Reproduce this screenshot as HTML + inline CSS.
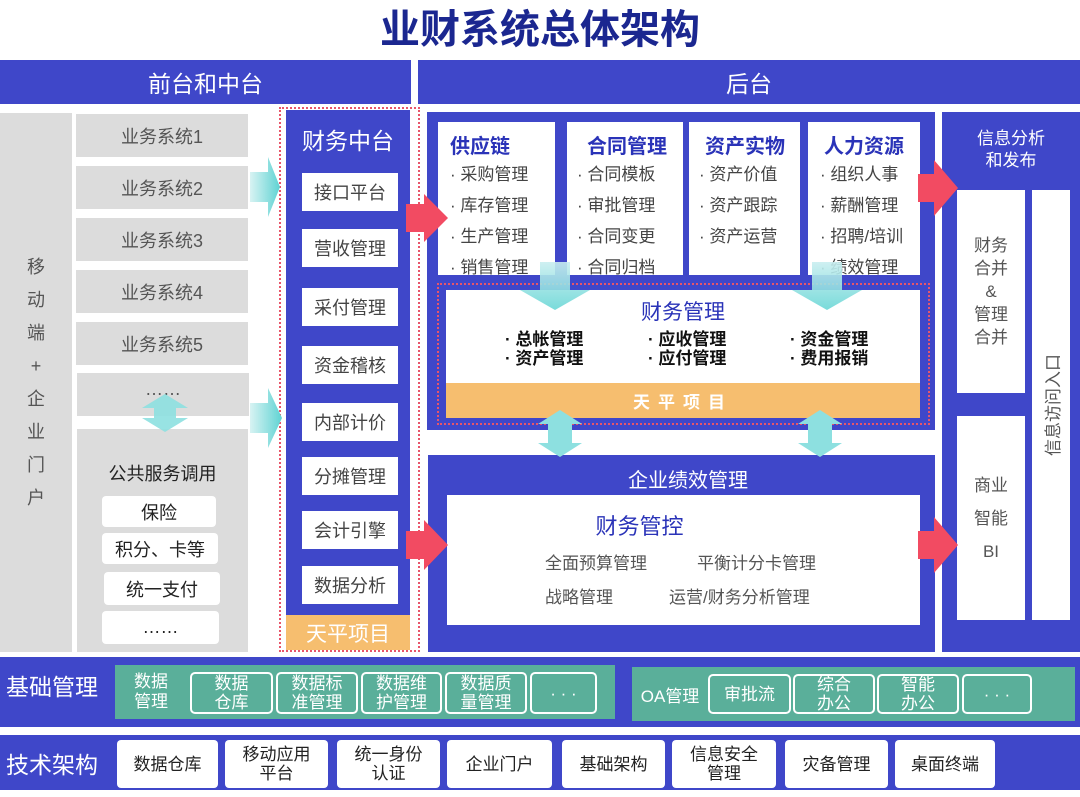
<!DOCTYPE html>
<html><head><meta charset="utf-8"><style>
*{margin:0;padding:0;box-sizing:border-box}
body{width:1080px;height:797px;background:#fff;position:relative;overflow:hidden;font-family:"Liberation Sans","Noto Sans CJK SC",sans-serif}
div{position:absolute}
.b{background:#3f47c9}
.c{display:flex;align-items:center;justify-content:center;text-align:center}
.g{background:#dcdcdc;color:#555;font-size:18px}
.w{background:#fff}
.gw{background:#fff;color:#222;font-size:18px;border-radius:4px}
.fm{background:#fff;color:#444;font-size:18px}
.cap{color:#2a33b8;font-size:20px;font-weight:bold}
.li{color:#444;font-size:17px;line-height:31px}
.gb{border:2px solid #fff;border-radius:5px;color:#fff;font-size:17px;line-height:19px}
.tb{background:#fff;border-radius:4px;color:#222;font-size:17px;line-height:19px}
</style></head><body>
<div class="c" style="left:0;top:0;width:1080px;height:52px;font-size:40px;font-weight:bold;color:#1b2790">业财系统总体架构</div>
<div class="b c" style="left:0;top:60px;width:411px;height:44px;color:#fff;font-size:23px">前台和中台</div>
<div class="b c" style="left:418px;top:60px;width:662px;height:44px;color:#fff;font-size:23px">后台</div>

<div class="g c" style="left:0;top:113px;width:72px;height:539px;flex-direction:column;line-height:33px;font-size:18px">移<br>动<br>端<br>+<br>企<br>业<br>门<br>户</div>
<div class="g c" style="left:76px;top:114px;width:172px;height:43px">业务系统1</div>
<div class="g c" style="left:76px;top:166px;width:172px;height:43px">业务系统2</div>
<div class="g c" style="left:76px;top:218px;width:172px;height:43px">业务系统3</div>
<div class="g c" style="left:76px;top:270px;width:172px;height:43px">业务系统4</div>
<div class="g c" style="left:76px;top:322px;width:172px;height:43px">业务系统5</div>
<div class="g c" style="left:77px;top:373px;width:172px;height:43px;padding-bottom:10px">……</div>
<div class="g" style="left:77px;top:429px;width:171px;height:223px"></div>
<div class="c" style="left:77px;top:458px;width:171px;height:30px;font-size:18px;color:#222">公共服务调用</div>
<div class="gw c" style="left:102px;top:496px;width:114px;height:31px">保险</div>
<div class="gw c" style="left:102px;top:533px;width:116px;height:31px">积分、卡等</div>
<div class="gw c" style="left:104px;top:572px;width:116px;height:33px">统一支付</div>
<div class="gw c" style="left:102px;top:611px;width:117px;height:33px">……</div>

<div style="left:279px;top:107px;width:141px;height:545px;border:2px dotted #e8556a"></div>
<div class="b" style="left:286px;top:110px;width:124px;height:505px"></div>
<div class="c" style="left:286px;top:122px;width:124px;height:34px;color:#fff;font-size:23px">财务中台</div>
<div class="fm c" style="left:302px;top:173px;width:96px;height:38px">接口平台</div>
<div class="fm c" style="left:302px;top:229px;width:96px;height:38px">营收管理</div>
<div class="fm c" style="left:302px;top:288px;width:96px;height:38px">采付管理</div>
<div class="fm c" style="left:302px;top:346px;width:96px;height:38px">资金稽核</div>
<div class="fm c" style="left:302px;top:403px;width:96px;height:38px">内部计价</div>
<div class="fm c" style="left:302px;top:457px;width:96px;height:38px">分摊管理</div>
<div class="fm c" style="left:302px;top:511px;width:96px;height:38px">会计引擎</div>
<div class="fm c" style="left:302px;top:566px;width:96px;height:38px">数据分析</div>
<div class="c" style="left:286px;top:615px;width:124px;height:35px;background:#f6be6f;color:#fff;font-size:21px">天平项目</div>

<div class="b" style="left:427px;top:112px;width:508px;height:318px"></div>
<div class="w" style="left:438px;top:122px;width:117px;height:153px;padding:8px 0 0 12px"><div style="position:static" class="cap">供应链</div><div style="position:static" class="li">· 采购管理<br>· 库存管理<br>· 生产管理<br>· 销售管理</div></div>
<div class="w" style="left:567px;top:122px;width:116px;height:153px;padding:8px 0 0 10px"><div style="position:static;padding-left:10px" class="cap">合同管理</div><div style="position:static" class="li">· 合同模板<br>· 审批管理<br>· 合同变更<br>· 合同归档</div></div>
<div class="w" style="left:689px;top:122px;width:111px;height:153px;padding:8px 0 0 10px"><div style="position:static;padding-left:6px" class="cap">资产实物</div><div style="position:static" class="li">· 资产价值<br>· 资产跟踪<br>· 资产运营</div></div>
<div class="w" style="left:808px;top:122px;width:112px;height:153px;padding:8px 0 0 12px"><div style="position:static;padding-left:4px" class="cap">人力资源</div><div style="position:static" class="li">· 组织人事<br>· 薪酬管理<br>· 招聘/培训<br>· 绩效管理</div></div>
<div style="left:437px;top:283px;width:493px;height:142px;border:2px dotted #e8556a"></div>
<div class="w" style="left:446px;top:290px;width:474px;height:93px"></div>
<div class="c cap" style="left:446px;top:297px;width:474px;height:28px;font-weight:normal;font-size:21px">财务管理</div>
<div style="left:505px;top:330px;font-size:17px;line-height:19px;color:#111;font-weight:bold">· 总帐管理<br>· 资产管理</div>
<div style="left:648px;top:330px;font-size:17px;line-height:19px;color:#111;font-weight:bold">· 应收管理<br>· 应付管理</div>
<div style="left:790px;top:330px;font-size:17px;line-height:19px;color:#111;font-weight:bold">· 资金管理<br>· 费用报销</div>
<div class="c" style="left:446px;top:383px;width:474px;height:35px;background:#f6be6f;color:#fff;font-size:17px;font-weight:bold;letter-spacing:8px">天平项目</div>

<div class="b" style="left:428px;top:455px;width:507px;height:197px"></div>
<div class="c" style="left:428px;top:464px;width:520px;height:28px;color:#fff;font-size:20px">企业绩效管理</div>
<div class="w" style="left:447px;top:495px;width:473px;height:130px"></div>
<div class="c cap" style="left:447px;top:510px;width:385px;height:30px;font-weight:normal;font-size:22px">财务管控</div>
<div style="left:545px;top:549px;font-size:17px;color:#555">全面预算管理</div>
<div style="left:697px;top:549px;font-size:17px;color:#555">平衡计分卡管理</div>
<div style="left:545px;top:583px;font-size:17px;color:#555">战略管理</div>
<div style="left:669px;top:583px;font-size:17px;color:#555">运营/财务分析管理</div>

<div class="b" style="left:942px;top:112px;width:138px;height:540px"></div>
<div class="c" style="left:942px;top:125px;width:138px;height:50px;color:#fff;font-size:17px;line-height:22px">信息分析<br>和发布</div>
<div class="w c" style="left:957px;top:190px;width:68px;height:203px;color:#555;font-size:17px;line-height:23px">财务<br>合并<br>&amp;<br>管理<br>合并</div>
<div class="w c" style="left:957px;top:416px;width:68px;height:204px;color:#555;font-size:17px;line-height:33px">商业<br>智能<br>BI</div>
<div class="w" style="left:1032px;top:190px;width:38px;height:430px"></div>
<div class="c" style="left:951px;top:386px;width:200px;height:38px;color:#555;font-size:17px;transform:rotate(-90deg)">信息访问入口</div>

<div class="b" style="left:0;top:657px;width:1080px;height:70px"></div>
<div style="left:6px;top:668px;color:#fff;font-size:23px">基础管理</div>
<div style="left:115px;top:665px;width:500px;height:54px;background:#5aaf9a"></div>
<div class="c" style="left:115px;top:668px;width:72px;height:48px;color:#fff;font-size:17px;line-height:20px">数据<br>管理</div>
<div class="gb c" style="left:190px;top:672px;width:83px;height:42px">数据<br>仓库</div>
<div class="gb c" style="left:276px;top:672px;width:82px;height:42px">数据标<br>准管理</div>
<div class="gb c" style="left:361px;top:672px;width:81px;height:42px">数据维<br>护管理</div>
<div class="gb c" style="left:445px;top:672px;width:82px;height:42px">数据质<br>量管理</div>
<div class="gb c" style="left:530px;top:672px;width:67px;height:42px">· · ·</div>
<div style="left:632px;top:667px;width:443px;height:54px;background:#5aaf9a"></div>
<div class="c" style="left:634px;top:670px;width:72px;height:48px;color:#fff;font-size:17px">OA管理</div>
<div class="gb c" style="left:708px;top:674px;width:83px;height:40px">审批流</div>
<div class="gb c" style="left:793px;top:674px;width:82px;height:40px">综合<br>办公</div>
<div class="gb c" style="left:877px;top:674px;width:82px;height:40px">智能<br>办公</div>
<div class="gb c" style="left:962px;top:674px;width:70px;height:40px">· · ·</div>

<div class="b" style="left:0;top:735px;width:1080px;height:55px"></div>
<div style="left:6px;top:746px;color:#fff;font-size:23px">技术架构</div>
<div class="tb c" style="left:117px;top:740px;width:101px;height:48px">数据仓库</div>
<div class="tb c" style="left:225px;top:740px;width:103px;height:48px">移动应用<br>平台</div>
<div class="tb c" style="left:337px;top:740px;width:103px;height:48px">统一身份<br>认证</div>
<div class="tb c" style="left:447px;top:740px;width:105px;height:48px">企业门户</div>
<div class="tb c" style="left:562px;top:740px;width:103px;height:48px">基础架构</div>
<div class="tb c" style="left:672px;top:740px;width:104px;height:48px">信息安全<br>管理</div>
<div class="tb c" style="left:785px;top:740px;width:103px;height:48px">灾备管理</div>
<div class="tb c" style="left:895px;top:740px;width:100px;height:48px">桌面终端</div>

<svg style="position:absolute;left:0;top:0" width="1080" height="797">
<defs><linearGradient id="cy" x1="0" x2="1"><stop offset="0" stop-color="#d8f3f3"/><stop offset="1" stop-color="#5fd3d3"/></linearGradient>
<linearGradient id="cv" x1="0" y1="0" x2="0" y2="1"><stop offset="0" stop-color="#c9eef0"/><stop offset="1" stop-color="#6ad7d6"/></linearGradient></defs>
<polygon points="250,172 268,172 268,157 280,187 268,217 268,202 250,202" fill="url(#cy)"/>
<polygon points="250,403 268,403 268,388 282,418 268,448 268,433 250,433" fill="url(#cy)"/>
<polygon points="165,394 188,408 176,408 176,418 188,418 165,432 142,418 154,418 154,408 142,408" fill="#8de0e0" opacity=".9"/>
<polygon points="406,204 424,204 424,194 448,218 424,242 424,232 406,232" fill="#f24b62"/>
<polygon points="406,531 424,531 424,520 448,545 424,570 424,559 406,559" fill="#f24b62"/>
<polygon points="918,174 934,174 934,160 958,188 934,216 934,202 918,202" fill="#f24b62"/>
<polygon points="918,531 934,531 934,517 958,545 934,573 934,559 918,559" fill="#f24b62"/>
<polygon points="540,262 570,262 570,290 590,290 555,310 520,290 540,290" fill="url(#cv)" opacity=".9"/>
<polygon points="812,262 842,262 842,290 862,290 827,310 792,290 812,290" fill="url(#cv)" opacity=".9"/>
<polygon points="560,410 582,424 572,424 572,443 582,443 560,457 538,443 548,443 548,424 538,424" fill="#8de0e0"/>
<polygon points="820,410 842,424 832,424 832,443 842,443 820,457 798,443 808,443 808,424 798,424" fill="#8de0e0"/>
</svg>
</body></html>
